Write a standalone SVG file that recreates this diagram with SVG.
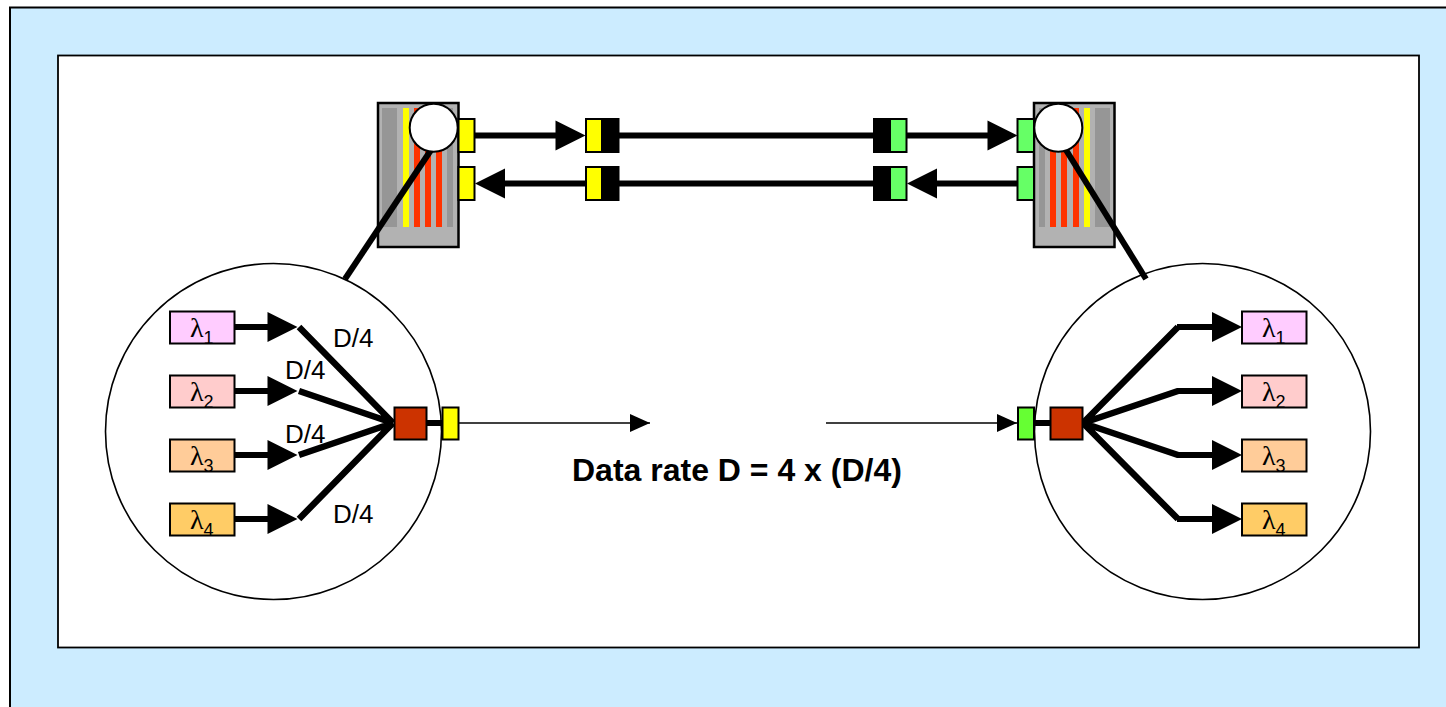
<svg xmlns="http://www.w3.org/2000/svg" width="1446" height="707" viewBox="0 0 1446 707">
<style>
.b{stroke:#000;stroke-width:2}
.dev{fill:#b2b2b2;stroke:#000;stroke-width:2.5}
.g{fill:#969696}.r{fill:#ff3300}.y{fill:#ffff00}
.py{fill:#ffff00;stroke:#000;stroke-width:2}
.pg{fill:#66ff66;stroke:#000;stroke-width:2}
.k{fill:#000;stroke:#000;stroke-width:2}
.lens{fill:#fff;stroke:#000;stroke-width:2}
.mux{fill:#cc3300;stroke:#000;stroke-width:2}
.big{fill:#fff;stroke:#000;stroke-width:1.6}
.t{font-family:"Liberation Sans",Arial,sans-serif;font-size:26px;fill:#000}
.l{font-family:"Liberation Serif","Times New Roman",serif;font-size:28px;fill:#000}
.s{font-family:"Liberation Sans",Arial,sans-serif;font-size:18px}
.c5{stroke:#000;stroke-width:6;fill:none}
.c6{stroke:#000;stroke-width:6.500;fill:none}
.c1{stroke:#000;stroke-width:1.500;fill:none}
.a{marker-end:url(#ah)}
.a1{marker-end:url(#as)}
</style>
<defs>
<marker id="ah" markerUnits="userSpaceOnUse" markerWidth="32" markerHeight="32" refX="21" refY="16" orient="auto" overflow="visible"><path d="M1 1L31 16L1 31Z" fill="#000"/></marker>
<marker id="as" markerUnits="userSpaceOnUse" markerWidth="20" markerHeight="18" refX="20" refY="9" orient="auto" overflow="visible"><path d="M0 0L20 9L0 18Z" fill="#000"/></marker>
</defs>
<rect width="1446" height="707" fill="#fff"/>
<g id="background">
<path d="M1446 7.500H10V707H1446Z" fill="#ccecff"/>
<path d="M1446 7.500H10V707" fill="none" stroke="#000" stroke-width="2"/>
<rect x="58" y="55.500" width="1361" height="592" fill="#fff" stroke="#000" stroke-width="1.800"/>
</g>
<g id="left-device">
<rect class="dev" x="378" y="103" width="80.500" height="144"/>
<rect class="g" x="382" y="108" width="15" height="119"/>
<rect class="y" x="403" y="108" width="6" height="119"/>
<rect class="r" x="414" y="108" width="6" height="119"/>
<rect class="r" x="425" y="108" width="6" height="119"/>
<rect class="r" x="436" y="108" width="6" height="119"/>
<rect class="g" x="447" y="108" width="6" height="119"/>
</g>
<g id="right-device">
<rect class="dev" x="1034" y="103" width="80.500" height="144"/>
<rect class="g" x="1039" y="108" width="6" height="119"/>
<rect class="r" x="1050" y="108" width="6" height="119"/>
<rect class="r" x="1061" y="108" width="6" height="119"/>
<rect class="r" x="1073" y="108" width="6" height="119"/>
<rect class="y" x="1084" y="108" width="6" height="119"/>
<rect class="g" x="1095" y="108" width="15" height="119"/>
</g>
<g id="left-detail-circle"><circle class="big" cx="273.500" cy="431.500" r="168"/></g>
<g id="right-detail-circle"><circle class="big" cx="1202.500" cy="431.500" r="168"/></g>
<g id="connectors">
<path class="c5" d="M431 150L345 279"/>
<path class="c5" d="M1066 150L1146 279"/>
<path class="c5 a" d="M474 135.500H575.500"/>
<path class="c5 a" d="M586 183.500H485"/>
<path class="c5" d="M619 135.500H873M619 183.500H873"/>
<path class="c5 a" d="M906 135.500H1007.500"/>
<path class="c5 a" d="M1018 183.500H917"/>
<path class="c5 a" d="M234 327H287.500"/>
<path class="c5 a" d="M234 391H287.500"/>
<path class="c5 a" d="M234 455H287.500"/>
<path class="c5 a" d="M234 519H287.500"/>
<path class="c6" d="M299 327L393 423M299 391L393 423M299 455L393 423M299 519L393 423"/>
<path class="c5" d="M426 423H442"/>
<path class="c1 a1" d="M458 423H650"/>
<path class="c1 a1" d="M826 423H1017"/>
<path class="c5" d="M1034 423H1050"/>
<path class="c6" d="M1083 423L1178 327M1083 423L1178 391M1083 423L1178 455M1083 423L1178 519"/>
<path class="c5 a" d="M1177 327H1232"/>
<path class="c5 a" d="M1177 391H1232"/>
<path class="c5 a" d="M1177 455H1232"/>
<path class="c5 a" d="M1177 519H1232"/>
</g>
<g id="left-lens"><circle class="lens" cx="433.700" cy="127.700" r="24"/></g>
<g id="right-lens"><circle class="lens" cx="1058.300" cy="127.700" r="24"/></g>
<g id="port-left-tx"><rect class="py" x="458.500" y="119" width="16" height="33"/></g>
<g id="port-left-rx"><rect class="py" x="458.500" y="167" width="16" height="33"/></g>
<g id="port-right-rx"><rect class="pg" x="1017.500" y="119" width="16.500" height="33"/></g>
<g id="port-right-tx"><rect class="pg" x="1017.500" y="167" width="16.500" height="33"/></g>
<g id="conn-l1"><rect class="py" x="586" y="119" width="16" height="33"/><rect class="k" x="602" y="119" width="16.500" height="33"/></g>
<g id="conn-l2"><rect class="py" x="586" y="167" width="16" height="33"/><rect class="k" x="602" y="167" width="16.500" height="33"/></g>
<g id="conn-r1"><rect class="k" x="874" y="119" width="16" height="33"/><rect class="pg" x="890" y="119" width="16.500" height="33"/></g>
<g id="conn-r2"><rect class="k" x="874" y="167" width="16" height="33"/><rect class="pg" x="890" y="167" width="16.500" height="33"/></g>
<g id="left-lambdas">
<g id="l1"><rect class="b" x="170" y="311.500" width="64.500" height="32" fill="#ffccff"/><text class="l" x="190" y="337">λ<tspan class="s" dy="7">1</tspan></text></g>
<g id="l2"><rect class="b" x="170" y="375.500" width="64.500" height="32" fill="#ffcccc"/><text class="l" x="190" y="401">λ<tspan class="s" dy="7">2</tspan></text></g>
<g id="l3"><rect class="b" x="170" y="439.500" width="64.500" height="32" fill="#ffcc99"/><text class="l" x="190" y="465">λ<tspan class="s" dy="7">3</tspan></text></g>
<g id="l4"><rect class="b" x="170" y="503.500" width="64.500" height="32" fill="#ffcc66"/><text class="l" x="190" y="529">λ<tspan class="s" dy="7">4</tspan></text></g>
</g>
<g id="right-lambdas">
<g id="r1"><rect class="b" x="1242" y="311.500" width="64.500" height="32" fill="#ffccff"/><text class="l" x="1262" y="337">λ<tspan class="s" dy="7">1</tspan></text></g>
<g id="r2"><rect class="b" x="1242" y="375.500" width="64.500" height="32" fill="#ffcccc"/><text class="l" x="1262" y="401">λ<tspan class="s" dy="7">2</tspan></text></g>
<g id="r3"><rect class="b" x="1242" y="439.500" width="64.500" height="32" fill="#ffcc99"/><text class="l" x="1262" y="465">λ<tspan class="s" dy="7">3</tspan></text></g>
<g id="r4"><rect class="b" x="1242" y="503.500" width="64.500" height="32" fill="#ffcc66"/><text class="l" x="1262" y="529">λ<tspan class="s" dy="7">4</tspan></text></g>
</g>
<g id="left-mux"><rect class="mux" x="394.500" y="407.500" width="32" height="32"/></g>
<g id="left-port"><rect class="py" x="442.500" y="407.500" width="16" height="32"/></g>
<g id="right-mux"><rect class="mux" x="1050.500" y="407.500" width="32" height="32"/></g>
<g id="right-port"><rect x="1018" y="407.500" width="16" height="32" fill="#66ff33" stroke="#000" stroke-width="2"/></g>
<g id="labels">
<text class="t" x="333" y="347">D/4</text>
<text class="t" x="285" y="379">D/4</text>
<text class="t" x="285" y="443">D/4</text>
<text class="t" x="333" y="523">D/4</text>
<text x="572" y="481" font-family="'Liberation Sans',Arial,sans-serif" font-size="32" font-weight="700">Data rate D = 4 x (D/4)</text>
</g>
</svg>
